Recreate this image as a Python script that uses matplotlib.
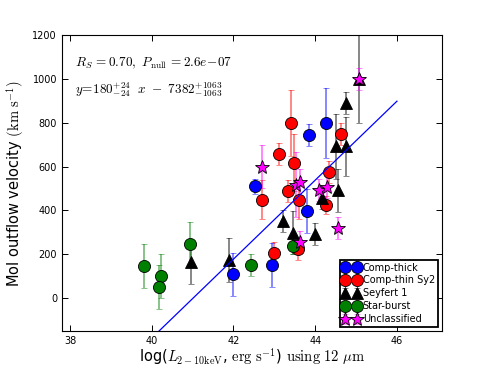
import matplotlib
matplotlib.use("Agg")
import matplotlib.pyplot as plt
import numpy as np
from matplotlib.ticker import MultipleLocator

plt.rcParams['font.family'] = ['DejaVu Sans']
plt.rcParams['mathtext.fontset'] = 'cm'
plt.rcParams['xtick.direction'] = 'in'
plt.rcParams['ytick.direction'] = 'in'

# Comp-thick
thick_x = [41.99, 42.94, 43.81, 42.53, 43.85, 44.27]
thick_y = [108, 150, 398, 510, 745, 800]
thick_e = [100, 100, 100, 35, 50, 160]

# Comp-thin Sy2
thin_x = [43.40, 43.11, 43.47, 44.64, 44.33, 42.70, 43.33, 43.60, 44.26, 42.99, 43.59]
thin_y = [800, 658, 617, 750, 574, 449, 487, 449, 424, 207, 223]
thin_e = [150, 50, 130, 50, 50, 90, 50, 90, 40, 50, 50]

# Seyfert 1
sy1_x = [40.97, 41.89, 43.21, 43.45, 43.99, 44.17, 44.56, 44.51, 44.76, 44.76, 45.06]
sy1_y = [165, 174, 350, 299, 293, 457, 491, 693, 693, 889, 998]
sy1_e = [100, 100, 50, 100, 50, 50, 100, 148, 135, 50, 200]

# Star-burst
sb_x = [39.82, 40.22, 40.18, 40.93, 42.43, 43.45]
sb_y = [148, 99, 49, 249, 150, 237]
sb_e = [100, 100, 100, 100, 50, 38]

# Unclassified
unc_x = [42.69, 45.06, 43.54, 43.62, 44.09, 44.30, 44.55, 43.62]
unc_y = [600, 1000, 518, 528, 495, 507, 319, 258]
unc_e = [100, 50, 150, 60, 50, 50, 50, 50]

# Fit
slope = 180
intercept = -7382
fit_x = [38, 46]

fig = plt.figure(figsize=(4.91, 3.68), dpi=100)
ax = fig.add_axes([0.126, 0.1005, 0.774, 0.8045])

groups = [
    (thick_x, thick_y, thick_e, 'o', 'blue', 'Comp-thick', 8.7),
    (thin_x, thin_y, thin_e, 'o', 'red', 'Comp-thin Sy2', 8.7),
    (sy1_x, sy1_y, sy1_e, '^', 'black', 'Seyfert 1', 9),
    (sb_x, sb_y, sb_e, 'o', 'green', 'Star-burst', 8.7),
    (unc_x, unc_y, unc_e, '*', 'magenta', 'Unclassified', 10),
]
for x, y, e, m, c, lab, ms in groups:
    eb = ax.errorbar(x, y, yerr=e, fmt=m, color=c, mfc=c, mec='black', mew=0.6,
                     ms=ms, ecolor=c, elinewidth=1.2, capsize=2.5, capthick=1,
                     label=lab)
    for bar in eb[2]:
        bar.set_alpha(0.55)
    for cap in eb[1]:
        cap.set_alpha(0.55)

fx = np.array(fit_x, dtype=float)
ax.plot(fx, slope * fx + intercept, color='blue', lw=0.9, zorder=4)

ax.set_xlim(37.8, 47.1)
ax.set_ylim(-150, 1200)
ax.xaxis.set_major_locator(MultipleLocator(2))
ax.yaxis.set_major_locator(MultipleLocator(200))
ax.tick_params(top=True, right=True, labelsize=7, length=4, width=0.7)

ax.set_xlabel(r'log($L_{\rm 2-10keV}$, ${\rm erg\ s^{-1}}$) ${\rm using\ 12}\ \mu{\rm m}$',
              fontsize=10.5, labelpad=1)
ax.set_ylabel(r'Mol outflow velocity $({\rm km\ s^{-1}})$', fontsize=10.5)

ax.text(0.035, 0.905, r'$R_S\,=0.70,\ P_{\rm null}\,=2.6e\!-\!07$', transform=ax.transAxes,
        fontsize=9.5, va='center', ha='left')
ax.text(0.035, 0.815, r'$y\!=\!180^{+24}_{-24}\ \ x\ -\ 7382^{+1063}_{-1063}$', transform=ax.transAxes,
        fontsize=9.5, va='center', ha='left')

leg = ax.legend(loc='lower right', numpoints=2, fontsize=7, shadow=False, fancybox=False,
                borderaxespad=0.4, handletextpad=0.3, labelspacing=0.3, borderpad=0.3,
                handlelength=1.8, framealpha=1)
leg.get_frame().set_edgecolor('black')
leg.get_frame().set_linewidth(1.3)

fig.savefig('out.png', dpi=100)
